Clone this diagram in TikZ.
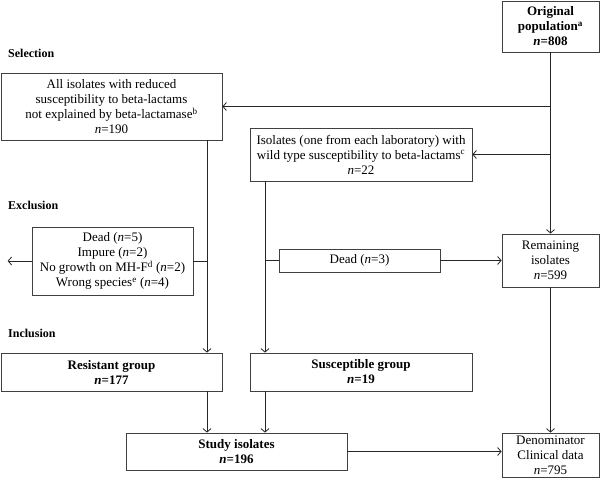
\documentclass[tikz,border=0pt]{standalone}
\usepackage{fontspec}
\setmainfont{Liberation Serif}
\usetikzlibrary{arrows.meta}
\begin{document}
\begin{tikzpicture}[x=1pt,y=-1pt,
  box/.style={draw=black!75,line width=0.8pt,align=center,inner sep=0pt,
    font=\fontsize{13}{15}\selectfont},
  bbox/.style={box,font=\fontsize{13}{15}\selectfont\bfseries},
  conn/.style={line width=0.8pt,draw=black!85},
  arr/.style={conn,-{Straight Barb[length=3.5pt,width=8pt]}},
  lbl/.style={anchor=west,font=\fontsize{12}{14}\selectfont\bfseries,inner sep=0pt}]
\useasboundingbox (0,0) rectangle (600,478);
\node[bbox,minimum width=97pt,minimum height=51pt] (orig) at (550.5,26.5) {Original\\population\textsuperscript{a}\\\textit{n}=808};
\node[box,minimum width=221pt,minimum height=67pt] (all) at (111.5,106.5) {All isolates with reduced\\susceptibility to beta-lactams\\not explained by beta-lactamase\textsuperscript{b}\\\textit{n}=190};
\node[box,minimum width=222pt,minimum height=53pt] (wild) at (361,154.5) {Isolates (one from each laboratory) with\\wild type susceptibility to beta-lactams\textsuperscript{c}\\\textit{n}=22};
\node[box,minimum width=161pt,minimum height=68pt] (excl) at (112.5,261) {Dead (\textit{n}=5)\\Impure (\textit{n}=2)\\No growth on MH-F\textsuperscript{d} (\textit{n}=2)\\Wrong species\textsuperscript{e} (\textit{n}=4)};
\node[box,minimum width=161pt,minimum height=23pt] (dead) at (359.5,260.5) {Dead (\textit{n}=3)};
\node[box,minimum width=97pt,minimum height=53pt] (remain) at (550.5,260.5) {Remaining\\isolates\\\textit{n}=599};
\node[bbox,minimum width=221pt,minimum height=38pt] (res) at (111.5,372) {Resistant group\\\textit{n}=177};
\node[bbox,minimum width=222pt,minimum height=38pt] (sus) at (361,372) {Susceptible group\\\textit{n}=19};
\node[bbox,minimum width=221pt,minimum height=37pt] (study) at (236.5,451.5) {Study isolates\\\textit{n}=196};
\node[box,minimum width=97pt,minimum height=44pt] (denom) at (550.5,455) {Denominator\\Clinical data\\\textit{n}=795};
\node[lbl] (lsel) at (8,53) {Selection};
\node[lbl] (lexc) at (8,205) {Exclusion};
\node[lbl] (linc) at (8,333) {Inclusion};
% connectors
\draw[arr] (orig.south) -- (remain.north);
\draw[arr] (orig.south |- all.east) -- (all.east);
\draw[arr] (orig.south |- wild.east) -- (wild.east);
\coordinate (rx) at (207,0);
\coordinate (sx) at (265,0);
\draw[arr] (all.south -| rx) -- (res.north -| rx);
\draw[arr] (wild.south -| sx) -- (sus.north -| sx);
\draw[conn] (excl.east) -- (excl.east -| rx);
\draw[arr] (excl.west) -- ++(-24,0) coordinate (exout);
\draw[conn] (dead.west) -- (dead.west -| sx);
\draw[arr] (dead.east) -- (remain.west);
\draw[arr] (res.south -| rx) -- (study.north -| rx);
\draw[arr] (sus.south -| sx) -- (study.north -| sx);
\draw[arr] (remain.south) -- (denom.north);
\draw[arr] (study.east) -- (study.east -| denom.west);
\end{tikzpicture}
\end{document}
